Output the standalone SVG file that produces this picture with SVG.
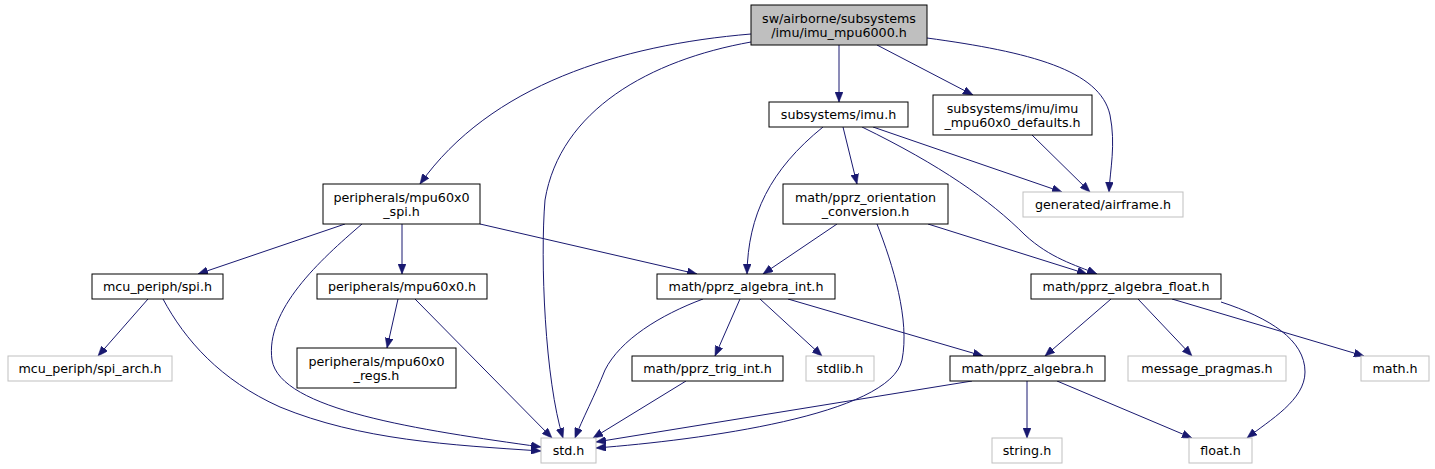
<svg xmlns="http://www.w3.org/2000/svg" width="1435" height="469" viewBox="0 0 1435 469">
<style>
.bg{fill:#ffffff}
.n rect{fill:#ffffff;stroke:#000000;stroke-width:1}
.g rect{fill:#ffffff;stroke:#bfbfbf;stroke-width:1}
.r rect{fill:#bfbfbf;stroke:#000000;stroke-width:1}
text{font-family:"DejaVu Sans","Liberation Sans",sans-serif;font-size:12.7px;fill:#000000;text-anchor:middle}
#edges path{fill:none;stroke:#191970;stroke-width:1;marker-end:url(#ah)}
</style>
<defs>
<marker id="ah" markerUnits="userSpaceOnUse" markerWidth="11" markerHeight="8" refX="10" refY="4" orient="auto">
<path d="M0,0 L10,4 L0,8 Z" fill="#191970" stroke="#191970" stroke-width="0.5"/>
</marker>
</defs>
<rect class="bg" x="0" y="0" width="1435" height="469"/>
<g id="edges">
<path d="M751,34 C620,45 490,85 420,184"/>
<path d="M751,42 C650,60 560,110 545,200 C540,260 545,380 563,438"/>
<path d="M839,45 L839,102"/>
<path d="M877,45 L973,95"/>
<path d="M927,38 C1030,52 1100,70 1110,115 C1116,145 1110,170 1109,192"/>
<path d="M823,127 C770,170 748,215 747,274"/>
<path d="M843,127 L857,184"/>
<path d="M873,127 L1062,192"/>
<path d="M862,127 C940,165 990,200 1025,235 C1050,258 1075,265 1097,274"/>
<path d="M1032,135 L1090,192"/>
<path d="M837,224 L763,274"/>
<path d="M877,224 C893,265 910,320 902,360 C890,415 700,440 596,448"/>
<path d="M928,224 L1087,274"/>
<path d="M345,224 L198,274"/>
<path d="M362,224 C320,260 265,310 272,360 C280,410 420,430 541,447"/>
<path d="M402,224 L402,274"/>
<path d="M480,224 L697,274"/>
<path d="M148,299 L98,356"/>
<path d="M163,299 C185,340 220,380 280,407 C360,440 450,445 541,451"/>
<path d="M398,299 L387,348"/>
<path d="M415,299 L552,438"/>
<path d="M703,299 C660,315 620,340 605,370 C595,395 582,420 575,438"/>
<path d="M740,299 L715,356"/>
<path d="M760,299 L822,356"/>
<path d="M788,299 L983,356"/>
<path d="M686,381 L593,438"/>
<path d="M1111,299 L1045,356"/>
<path d="M1138,299 L1192,356"/>
<path d="M1172,299 L1364,356"/>
<path d="M1221,302 C1270,318 1305,340 1305,372 C1305,400 1270,420 1247,438"/>
<path d="M972,381 L596,442"/>
<path d="M1027,381 L1027,438"/>
<path d="M1057,381 L1192,438"/>
</g>
<g id="node_root" class="r"><rect x="751" y="5" width="176" height="40"/><text x="839" y="23">sw/airborne/subsystems</text><text x="839" y="37">/imu/imu_mpu6000.h</text></g>
<g id="node_imu" class="n"><rect x="769" y="102" width="139" height="25"/><text x="838.5" y="119">subsystems/imu.h</text></g>
<g id="node_defaults" class="n"><rect x="933" y="95" width="159" height="40"/><text x="1012.5" y="113">subsystems/imu/imu</text><text x="1012.5" y="127">_mpu60x0_defaults.h</text></g>
<g id="node_airframe" class="g"><rect x="1023" y="192" width="160" height="25"/><text x="1103" y="209">generated/airframe.h</text></g>
<g id="node_orient" class="n"><rect x="783" y="184" width="165" height="40"/><text x="865.5" y="202">math/pprz_orientation</text><text x="865.5" y="216">_conversion.h</text></g>
<g id="node_mpuspi" class="n"><rect x="323" y="184" width="157" height="40"/><text x="401.5" y="202">peripherals/mpu60x0</text><text x="401.5" y="216">_spi.h</text></g>
<g id="node_spi" class="n"><rect x="92" y="274" width="131" height="25"/><text x="157.5" y="291">mcu_periph/spi.h</text></g>
<g id="node_mpu" class="n"><rect x="317" y="274" width="170" height="25"/><text x="402" y="291">peripherals/mpu60x0.h</text></g>
<g id="node_regs" class="n"><rect x="297" y="348" width="159" height="40"/><text x="376.5" y="366">peripherals/mpu60x0</text><text x="376.5" y="380">_regs.h</text></g>
<g id="node_spiarch" class="g"><rect x="8" y="356" width="164" height="25"/><text x="90" y="373">mcu_periph/spi_arch.h</text></g>
<g id="node_algint" class="n"><rect x="657" y="274" width="178" height="25"/><text x="746" y="291">math/pprz_algebra_int.h</text></g>
<g id="node_algfloat" class="n"><rect x="1031" y="274" width="190" height="25"/><text x="1126" y="291">math/pprz_algebra_float.h</text></g>
<g id="node_trig" class="n"><rect x="632" y="356" width="151" height="25"/><text x="707.5" y="373">math/pprz_trig_int.h</text></g>
<g id="node_stdlib" class="g"><rect x="806" y="356" width="68" height="25"/><text x="840" y="373">stdlib.h</text></g>
<g id="node_alg" class="n"><rect x="950" y="356" width="155" height="25"/><text x="1027.5" y="373">math/pprz_algebra.h</text></g>
<g id="node_msg" class="g"><rect x="1128" y="356" width="158" height="25"/><text x="1207" y="373">message_pragmas.h</text></g>
<g id="node_math" class="g"><rect x="1361" y="356" width="68" height="25"/><text x="1395" y="373">math.h</text></g>
<g id="node_std" class="g"><rect x="541" y="438" width="55" height="25"/><text x="568.5" y="455">std.h</text></g>
<g id="node_string" class="g"><rect x="992" y="438" width="70" height="25"/><text x="1027" y="455">string.h</text></g>
<g id="node_float" class="g"><rect x="1189" y="438" width="63" height="25"/><text x="1220.5" y="455">float.h</text></g>
</svg>
